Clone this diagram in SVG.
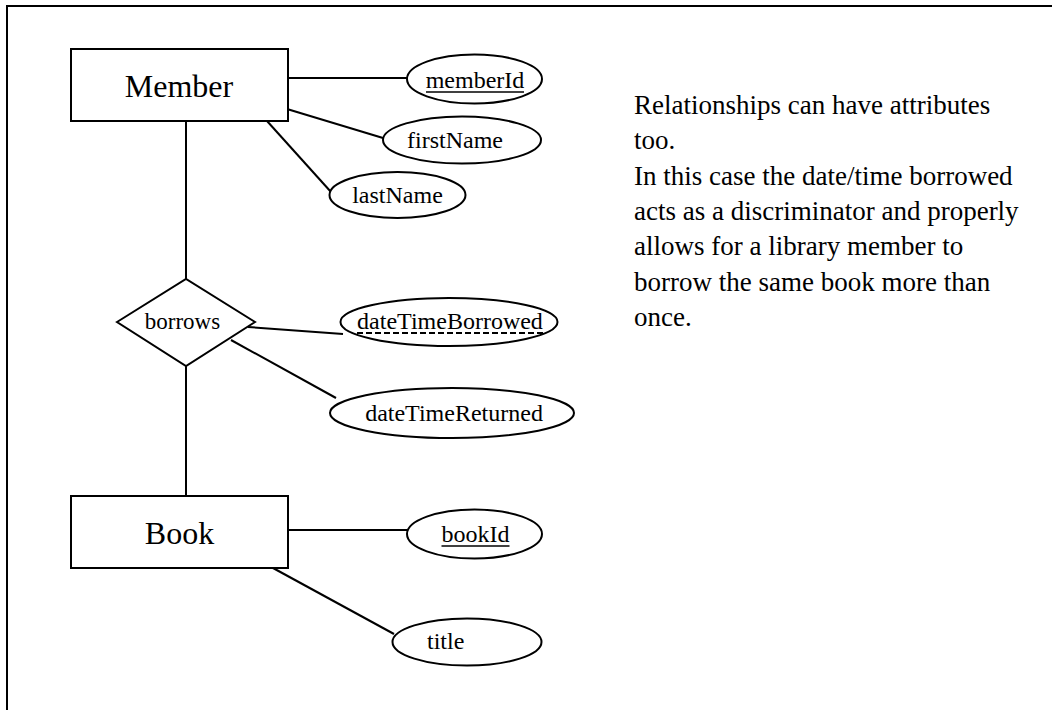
<svg xmlns="http://www.w3.org/2000/svg" width="1052" height="710" viewBox="0 0 1052 710">
<style>
.s{fill:#fff;stroke:#000;stroke-width:2}
.c{stroke:#000;stroke-width:2;fill:none}
.t{font-family:"Liberation Serif","Times New Roman",serif;fill:#000}
.e{font-size:32px;text-anchor:middle}
.a{font-size:24px;text-anchor:middle}
.n{font-size:27px}
</style>
<rect width="1052" height="710" fill="#fff"/>
<path class="c" d="M7,712 V6 H1054"/>
<g id="connectors">
<line class="c" x1="287" y1="78" x2="407" y2="78"/>
<line class="c" x1="287" y1="109" x2="383" y2="138"/>
<line class="c" x1="267" y1="121" x2="331" y2="192"/>
<line class="c" x1="186" y1="121" x2="186" y2="279"/>
<line class="c" x1="186" y1="366" x2="186" y2="496"/>
<line class="c" x1="248" y1="327" x2="343" y2="334"/>
<line class="c" x1="231" y1="340" x2="336" y2="398"/>
<line class="c" x1="288" y1="530" x2="407" y2="530"/>
<line class="c" x1="273" y1="568" x2="394" y2="634"/>
</g>
<g id="member">
<rect class="s" x="71" y="49" width="217" height="72"/>
<text class="t e" x="179" y="97">Member</text>
</g>
<g id="memberId">
<ellipse class="s" cx="474.5" cy="79" rx="67.5" ry="24.5"/>
<text class="t a" x="475" y="88">memberId</text>
<line stroke="#000" stroke-width="1.5" x1="426" y1="92" x2="524" y2="92"/>
</g>
<g id="firstName">
<ellipse class="s" cx="462" cy="140" rx="79" ry="23.5"/>
<text class="t a" x="455" y="148">firstName</text>
</g>
<g id="lastName">
<ellipse class="s" cx="397.5" cy="195" rx="68" ry="23"/>
<text class="t a" x="397.5" y="203">lastName</text>
</g>
<g id="borrows">
<polygon class="s" points="117,322 186,279 255,322 186,366"/>
<text class="t a" x="182.5" y="329" style="font-size:23px">borrows</text>
</g>
<g id="dateTimeBorrowed">
<ellipse class="s" cx="449" cy="322" rx="108.5" ry="24"/>
<text class="t a" x="450" y="329">dateTimeBorrowed</text>
<line stroke="#000" stroke-width="2.2" stroke-dasharray="6,3" x1="357" y1="333" x2="543" y2="333"/>
</g>
<g id="dateTimeReturned">
<ellipse class="s" cx="452" cy="413" rx="122" ry="25"/>
<text class="t a" x="454" y="421">dateTimeReturned</text>
</g>
<g id="book">
<rect class="s" x="71" y="496" width="217" height="72"/>
<text class="t e" x="179.5" y="544">Book</text>
</g>
<g id="bookId">
<ellipse class="s" cx="474.5" cy="534" rx="67.5" ry="24.5"/>
<text class="t a" x="475.5" y="542">bookId</text>
<line stroke="#000" stroke-width="1.5" x1="441.5" y1="546" x2="509.5" y2="546"/>
</g>
<g id="title">
<ellipse class="s" cx="467" cy="642" rx="74.5" ry="23.5"/>
<text class="t" x="427" y="649" style="font-size:24px">title</text>
</g>
<g id="note">
<text class="t n" x="634" y="114">Relationships can have attributes</text>
<text class="t n" x="634" y="149.3">too.</text>
<text class="t n" x="634" y="184.6">In this case the date/time borrowed</text>
<text class="t n" x="634" y="219.9">acts as a discriminator and properly</text>
<text class="t n" x="634" y="255.2">allows for a library member to</text>
<text class="t n" x="634" y="290.5">borrow the same book more than</text>
<text class="t n" x="634" y="325.8">once.</text>
</g>
</svg>
